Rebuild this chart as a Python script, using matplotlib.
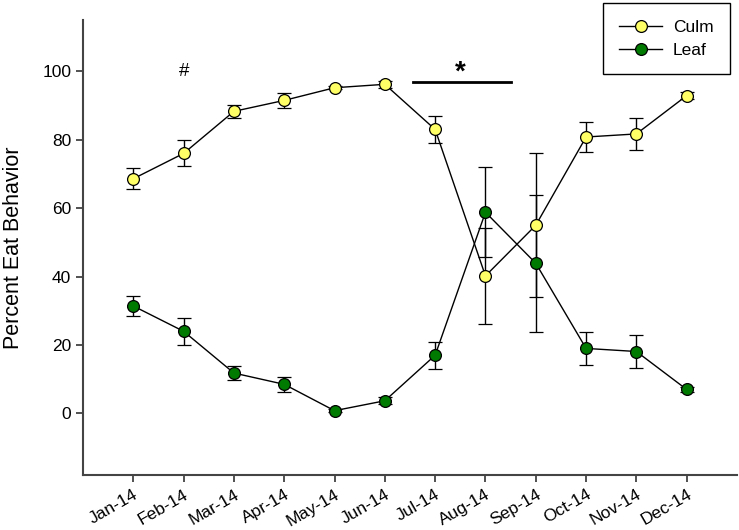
import numpy as np
import matplotlib.pyplot as plt
from matplotlib.lines import Line2D

plt.rcParams['font.family'] = ['Liberation Sans', 'DejaVu Sans']

months = ["Jan-14", "Feb-14", "Mar-14", "Apr-14", "May-14", "Jun-14",
          "Jul-14", "Aug-14", "Sep-14", "Oct-14", "Nov-14", "Dec-14"]
culm = [68.6, 76.0, 88.3, 91.5, 95.2, 96.2, 83.0, 40.2, 55.0, 80.8, 81.7, 92.9]
culm_err = [3.0, 3.8, 2.0, 2.1, 0.5, 1.0, 4.0, 14.1, 21.0, 4.5, 4.7, 1.0]
leaf = [31.4, 24.0, 11.8, 8.5, 0.8, 3.7, 17.0, 58.8, 43.9, 19.0, 18.1, 7.0]
leaf_err = [3.0, 4.0, 2.0, 2.1, 0.5, 1.0, 4.0, 13.1, 20.0, 4.7, 4.8, 0.8]

culm_color = "#ffff66"
leaf_color = "#007a00"

x = np.arange(1, len(months) + 1)

fig = plt.figure(figsize=(7.39, 5.30), dpi=100)
ax = fig.add_axes([83 / 739, 55 / 530, 654 / 739, 455 / 530])

common = dict(color="black", lw=1.0, marker="o", markersize=8.5,
              markeredgecolor="black", markeredgewidth=0.9,
              capsize=5, capthick=1.0, elinewidth=1.0, ecolor="black")
ax.errorbar(x, culm, yerr=culm_err, markerfacecolor=culm_color, **common)
ax.errorbar(x, leaf, yerr=leaf_err, markerfacecolor=leaf_color, **common)

ax.text(2, 99.8, "#", ha="center", va="center", fontsize=13.5)
ax.plot([6.55, 8.5], [96.8, 96.8], color="black", lw=2)
ax.text(7.5, 99.5, "*", ha="center", va="center", fontsize=20, fontweight="bold")

ax.set_xlim(0, 13)
ax.set_ylim(-18, 115)
ax.set_xticks(x)
ax.set_xticklabels(months, rotation=30, ha="right", rotation_mode="anchor", fontsize=12.5)
ax.set_yticks([0, 20, 40, 60, 80, 100])
ax.tick_params(axis="y", labelsize=12.5)
ax.tick_params(direction="out", length=5, color="#333333", width=1.2)
ax.set_ylabel("Percent Eat Behavior", fontsize=15.5, labelpad=13)
for s in ["top", "right"]:
    ax.spines[s].set_visible(False)
for s in ["left", "bottom"]:
    ax.spines[s].set_color("#444444")
    ax.spines[s].set_linewidth(1.5)

handles = [
    Line2D([], [], color="black", lw=1.0, marker="o", markersize=8.5,
           markerfacecolor=culm_color, markeredgecolor="black", markeredgewidth=0.9),
    Line2D([], [], color="black", lw=1.0, marker="o", markersize=8.5,
           markerfacecolor=leaf_color, markeredgecolor="black", markeredgewidth=0.9),
]
leg = fig.legend(handles, ["Culm", "Leaf"], loc="upper right",
                 bbox_to_anchor=(730 / 739, 1 - 3 / 530), borderaxespad=0,
                 fontsize=12.5, fancybox=False, edgecolor="black", framealpha=1,
                 handlelength=2.5, handletextpad=0.6, labelspacing=0.45,
                 borderpad=0.95)
leg.get_frame().set_linewidth(1.0)

fig.savefig("out.png", dpi=100)
